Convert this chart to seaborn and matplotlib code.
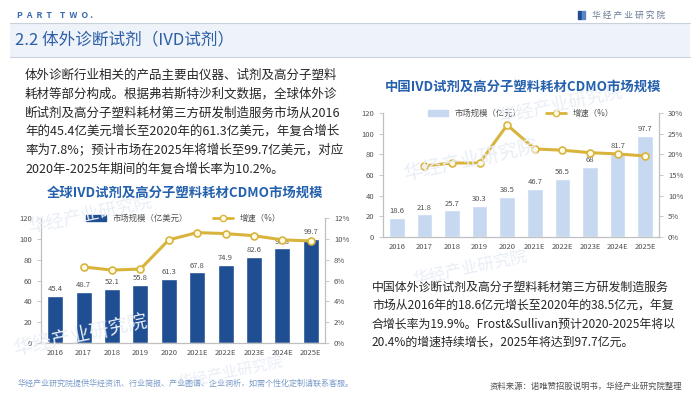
import numpy as np
import pandas as pd
import seaborn as sns
import matplotlib.pyplot as plt
from matplotlib.patches import Rectangle
from matplotlib.lines import Line2D
from matplotlib.ticker import FuncFormatter

years = ["2016", "2017", "2018", "2019", "2020", "2021E", "2022E", "2023E", "2024E", "2025E"]
global_size = [45.4, 48.7, 52.1, 55.8, 61.3, 67.8, 74.9, 82.6, 90.8, 99.7]
global_growth = [7.3, 7.0, 7.1, 9.9, 10.6, 10.5, 10.3, 9.9, 9.8]
china_size = [18.6, 21.8, 25.7, 30.3, 38.5, 46.7, 56.5, 68, 81.7, 97.7]
china_growth = [17.2, 17.9, 17.9, 27.1, 21.3, 21.0, 20.4, 20.1, 19.6]

left_text = [
    "体外诊断行业相关的产品主要由仪器、试剂及高分子塑料",
    "耗材等部分构成。根据弗若斯特沙利文数据，全球体外诊",
    "断试剂及高分子塑料耗材第三方研发制造服务市场从2016",
    "年的45.4亿美元增长至2020年的61.3亿美元，年复合增长",
    "率为7.8%；预计市场在2025年将增长至99.7亿美元，对应",
    "2020年-2025年期间的年复合增长率为10.2%。",
]
right_text = [
    "中国体外诊断试剂及高分子塑料耗材第三方研发制造服务",
    "市场从2016年的18.6亿元增长至2020年的38.5亿元，年复",
    "合增长率为19.9%。Frost&Sullivan预计2020-2025年将以",
    "20.4%的增速持续增长，2025年将达到97.7亿元。",
]

sns.set_style("white")
plt.rcParams["font.family"] = ["Noto Sans CJK SC", "DejaVu Sans"]

W, H = 700, 394
fig = plt.figure(figsize=(7, 3.94), dpi=100)

def px(x, y):
    return x / W, 1 - y / H

BLUE = "#2b5ea7"
GOLD = "#d8b43c"
GRAY = "#505050"

# faint watermarks
for (wx, wy, s) in [(90, 215, 13), (470, 160, 14), (80, 335, 14), (560, 105, 13), (470, 268, 12), (230, 372, 11)]:
    fig.text(*px(wx, wy), "华经产业研究院", fontsize=s, color="#e9eef6", rotation=12,
             ha="center", va="center", zorder=0)

# header
fig.text(*px(17, 15), "P  A  R  T    T  W  O .", fontsize=6.3, fontweight="bold",
         color="#3d6db0", va="center")
fig.patches.append(Rectangle((578 / W, 1 - 19 / H), 3 / W, 8 / H, transform=fig.transFigure, color="#1f4e93"))
fig.patches.append(Rectangle((582 / W, 1 - 19 / H), 3 / W, 8 / H, transform=fig.transFigure, color="#5a86c5"))
fig.text(*px(592, 15), "华 经 产 业 研 究 院", fontsize=6.3, color="#6a7b95", va="center")
fig.patches.append(Rectangle((10 / W, 1 - 57 / H), 680 / W, 34 / H, transform=fig.transFigure,
                             facecolor="#eef2f9", edgecolor="none"))
for yy in (23, 57):
    fig.add_artist(Line2D([10 / W, 690 / W], [1 - yy / H] * 2, color="#c9d1dd", lw=0.8))
fig.text(*px(15, 40), "2.2 体外诊断试剂（IVD试剂）", fontsize=12, color=BLUE, va="center")

# paragraphs
for i, line in enumerate(left_text):
    fig.text(*px(25, 75 + 18.8 * i), line, fontsize=9, color="#262626", va="center")
for i, line in enumerate(right_text):
    fig.text(*px(372, 287 + 18.5 * i), line, fontsize=8.6, color="#262626", va="center")

fig.text(*px(18, 383), "华经产业研究院提供华经资讯、行业简报、产业图谱、企业洞析，如需个性化定制请联系客服。",
         fontsize=5.8, color="#7a9cc9", va="center")
fig.text(*px(682, 386), "资料来源：诺唯赞招股说明书，华经产业研究院整理",
         fontsize=6, color=GRAY, va="center", ha="right")


def draw_chart(rect, title, title_xy, sizes, growth, bar_color, bar_name, pct_max, pct_step):
    ax = fig.add_axes(rect)
    df = pd.DataFrame({"year": years, "size": sizes})
    sns.barplot(data=df, x="year", y="size", color=bar_color, width=0.56, saturation=1, ax=ax)
    ax.bar_label(ax.containers[0], labels=[f"{v:g}" for v in sizes], padding=2,
                 fontsize=5.5, color=GRAY)
    ax.set_ylim(0, 120)
    ax.set_yticks(range(0, 121, 20))
    ax.set_xlabel("")
    ax.set_ylabel("")

    ax2 = ax.twinx()
    gdf = pd.DataFrame({"pos": np.arange(1, len(years)), "growth": growth})
    sns.lineplot(data=gdf, x="pos", y="growth", ax=ax2, color=GOLD, lw=2.2, marker="o",
                 ms=5, markerfacecolor="#fffbe6", markeredgecolor=GOLD, markeredgewidth=1.2)
    ax2.set_ylim(0, pct_max)
    ax2.set_yticks(np.arange(0, pct_max + 0.1, pct_step))
    ax2.yaxis.set_major_formatter(FuncFormatter(lambda v, _: f"{v:g}%"))
    ax2.set_ylabel("")
    ax2.set_xlabel("")
    ax.set_xlim(-0.5, len(years) - 0.5)

    for a in (ax, ax2):
        for side in ("left", "right", "bottom"):
            a.spines[side].set_visible(True)
            a.spines[side].set_color("#bfbfbf")
            a.spines[side].set_linewidth(0.8)
        a.spines["top"].set_visible(False)
        a.tick_params(labelsize=5.5, colors=GRAY, length=3, width=0.6)
    ax.tick_params(axis="x", length=0, pad=4)
    ax.tick_params(axis="y", color="#bfbfbf")
    ax2.tick_params(axis="y", color="#bfbfbf")

    handles = [Rectangle((0, 0), 1, 1, color=bar_color),
               Line2D([], [], color=GOLD, lw=2, marker="o", ms=4.5,
                      markerfacecolor="#fffbe6", markeredgecolor=GOLD)]
    ax2.legend(handles, [bar_name, "增速（%）"], loc="center", bbox_to_anchor=(0.5, 1.0),
               ncol=2, frameon=False, fontsize=6, handlelength=2.4, columnspacing=3,
               labelcolor=GRAY)
    fig.text(*px(*title_xy), title, fontsize=9.6, fontweight="bold", color="#2460ad",
             ha="center", va="center")
    return ax, ax2


x0, x1, yb, yt = 41, 325, 343, 218
draw_chart([x0 / W, 1 - yb / H, (x1 - x0) / W, (yb - yt) / H],
           "全球IVD试剂及高分子塑料耗材CDMO市场规模", (185, 193),
           global_size, global_growth, "#1f4e93", "市场规模（亿美元）", 12, 2)

x0, x1, yb, yt = 383, 659, 237, 113
draw_chart([x0 / W, 1 - yb / H, (x1 - x0) / W, (yb - yt) / H],
           "中国IVD试剂及高分子塑料耗材CDMO市场规模", (523, 87),
           china_size, china_growth, "#c6d9f1", "市场规模（亿元）", 30, 5)

fig.savefig("out.png", dpi=100)
